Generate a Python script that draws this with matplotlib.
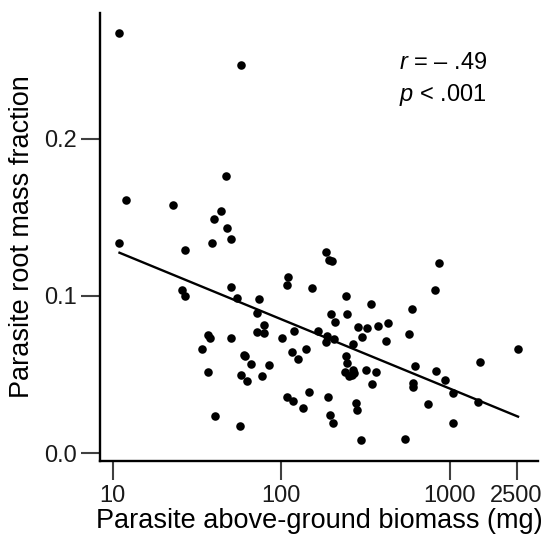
import numpy as np
import matplotlib
matplotlib.use('Agg')
import matplotlib.pyplot as plt

plt.rcParams['font.family'] = ['Liberation Sans', 'DejaVu Sans']
plt.rcParams['mathtext.fontset'] = 'custom'
plt.rcParams['mathtext.rm'] = 'Liberation Sans'
plt.rcParams['mathtext.it'] = 'Liberation Sans:italic'

# parasite above-ground biomass (mg)
biomass = [10.9, 57.7, 46.9, 12.0, 22.9, 44.0, 39.9, 47.9, 50.8, 10.9,
           39.0, 26.8, 25.9, 26.8, 50.8, 54.8, 73.8, 71.6, 79.1, 71.6,
           79.3, 110.2, 108.7, 153, 166, 118.6, 101.5, 36.8, 37.9, 50.8,
           34.0, 60.1, 60.9, 66.8, 84.3, 116.4, 125.9, 141.6, 36.8, 57.7,
           63.2, 77.6, 108.7, 117, 146.8, 134.6, 40.8, 56.9, 184.5, 191.4,
           201, 861, 815, 243, 341, 597, 197, 247, 208, 432,
           377, 287, 323, 575, 301, 188, 186, 205, 419, 269,
           243, 246, 620, 1507, 2553, 240, 268, 272, 254, 265,
           320, 367, 347, 832, 946, 603, 603, 1050, 190.5, 195,
           203, 278, 282, 750, 1472, 1042, 297, 545]

# parasite root mass fraction
root_frac = [0.267, 0.247, 0.176, 0.161, 0.158, 0.154, 0.149, 0.143, 0.136, 0.134,
             0.134, 0.129, 0.104, 0.100, 0.106, 0.0987, 0.0979, 0.0890, 0.0816, 0.0771,
             0.0763, 0.112, 0.107, 0.105, 0.0776, 0.0779, 0.0731, 0.0752, 0.0735, 0.0731,
             0.0665, 0.0627, 0.0619, 0.0568, 0.0563, 0.0642, 0.0601, 0.0661, 0.0515, 0.0496,
             0.0458, 0.0493, 0.0358, 0.0332, 0.0392, 0.0290, 0.0239, 0.0175, 0.1278, 0.1229,
             0.1222, 0.1208, 0.1036, 0.1002, 0.0951, 0.0917, 0.0884, 0.0887, 0.0837, 0.0826,
             0.0809, 0.0805, 0.0798, 0.0757, 0.0741, 0.0744, 0.0706, 0.0725, 0.0714, 0.0693,
             0.0617, 0.0576, 0.0553, 0.0580, 0.0663, 0.0515, 0.0530, 0.0510, 0.0491, 0.0498,
             0.0530, 0.0515, 0.0441, 0.0521, 0.0464, 0.0445, 0.0420, 0.0385, 0.0356, 0.0243,
             0.0195, 0.0318, 0.0275, 0.0312, 0.0328, 0.0191, 0.0083, 0.0093]

# regression line end points
fit_x = [11.0, 2550.0]
fit_y = [0.1275, 0.0233]

xticks = [10, 100, 1000, 2500]
xticklabels = ['10', '100', '1000', '2500']
yticks = [0.0, 0.1, 0.2]
yticklabels = ['0.0', '0.1', '0.2']

fig = plt.figure(figsize=(5.43, 5.40), dpi=100)
ax = fig.add_axes([0.1842, 0.1463, 0.8066, 0.8302])

ax.scatter(biomass, root_frac, s=38, color='black', linewidths=0, zorder=3)
ax.plot(fit_x, fit_y, color='black', linewidth=1.7, zorder=2)

ax.set_xscale('log')
ax.set_xlim(8.43, 3350)
ax.set_ylim(-0.0049, 0.2801)
ax.set_xticks(xticks)
ax.set_xticklabels(xticklabels)
ax.minorticks_off()
ax.set_yticks(yticks)
ax.set_yticklabels(yticklabels)

for side in ['top', 'right']:
    ax.spines[side].set_visible(False)
for side in ['left', 'bottom']:
    ax.spines[side].set_linewidth(1.7)
    ax.spines[side].set_color('black')

ax.tick_params(axis='both', which='major', labelsize=17, color='#404040',
               width=1.5, labelcolor='#1a1a1a')
ax.tick_params(axis='y', length=14, pad=3)
ax.tick_params(axis='x', length=14, pad=3)

ax.set_xlabel('Parasite above-ground biomass (mg)', fontsize=19.5, labelpad=1)
ax.set_ylabel('Parasite root mass fraction', fontsize=19.5, labelpad=6)

ax.text(0.683, 0.874, r'$r$ = – .49', transform=ax.transAxes, fontsize=17)
ax.text(0.683, 0.804, r'$p$ < .001', transform=ax.transAxes, fontsize=17)

plt.savefig('out.png', dpi=100)
